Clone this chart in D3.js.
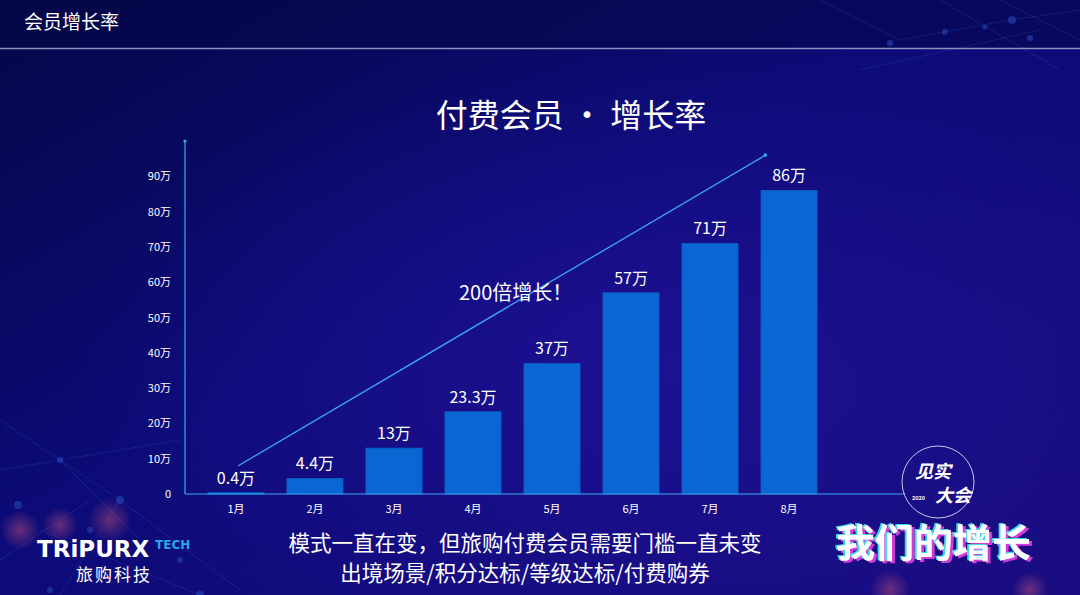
<!DOCTYPE html>
<html>
<head>
<meta charset="utf-8">
<script src="https://cdn.jsdelivr.net/npm/d3@7"></script>
<style>
  html, body { margin: 0; padding: 0; background: #0a0a60; }
  svg { display: block; font-family: "Noto Sans CJK SC", "Noto Sans", sans-serif; }
</style>
</head>
<body>
<svg id="chart" width="1080" height="595"></svg>
<script>
// chart data
var months = ["1月", "2月", "3月", "4月", "5月", "6月", "7月", "8月"];
var members = [0.4, 4.4, 13, 23.3, 37, 57, 71, 86];          // 万
var valueLabels = ["0.4万", "4.4万", "13万", "23.3万", "37万", "57万", "71万", "86万"];
var yTicks = [0, 10, 20, 30, 40, 50, 60, 70, 80, 90];
// trend arrow, in (month index, 万) units
var trendIdx = [0.03, 6.7];
var trendVal = [8, 96];

var svg = d3.select("#chart");
var W = 1080, H = 595;

// background
var defs = svg.append("defs");
var bg = defs.append("linearGradient").attr("id", "bg")
    .attr("x1", "0").attr("y1", "0").attr("x2", "1").attr("y2", "1");
bg.append("stop").attr("offset", "0%").attr("stop-color", "#040748");
bg.append("stop").attr("offset", "45%").attr("stop-color", "#0c0b78");
bg.append("stop").attr("offset", "100%").attr("stop-color", "#1a0c80");
var glow = defs.append("radialGradient").attr("id", "glow")
    .attr("cx", "0.62").attr("cy", "0.62").attr("r", "0.55");
glow.append("stop").attr("offset", "0%").attr("stop-color", "#22129a").attr("stop-opacity", 0.75);
glow.append("stop").attr("offset", "100%").attr("stop-color", "#22129a").attr("stop-opacity", 0);
var bokeh = defs.append("radialGradient").attr("id", "bokeh");
bokeh.append("stop").attr("offset", "0%").attr("stop-color", "#c0507a").attr("stop-opacity", 0.5);
bokeh.append("stop").attr("offset", "100%").attr("stop-color", "#c0507a").attr("stop-opacity", 0);

// glitch look for the slogan, done with a filter so it stays one text
var glitch = defs.append("filter").attr("id", "glitch")
    .attr("x", "-10%").attr("y", "-20%").attr("width", "120%").attr("height", "140%");
glitch.append("feFlood").attr("flood-color", "#d23ad8").attr("result", "mag");
glitch.append("feComposite").attr("in", "mag").attr("in2", "SourceAlpha").attr("operator", "in").attr("result", "magA");
glitch.append("feOffset").attr("in", "magA").attr("dx", 2.5).attr("dy", 2).attr("result", "magO");
glitch.append("feFlood").attr("flood-color", "#3ad8e8").attr("result", "cy");
glitch.append("feComposite").attr("in", "cy").attr("in2", "SourceAlpha").attr("operator", "in").attr("result", "cyA");
glitch.append("feOffset").attr("in", "cyA").attr("dx", -2.5).attr("dy", -1.5).attr("result", "cyO");
var merge = glitch.append("feMerge");
merge.append("feMergeNode").attr("in", "magO");
merge.append("feMergeNode").attr("in", "cyO");
merge.append("feMergeNode").attr("in", "SourceGraphic");

svg.append("rect").attr("width", W).attr("height", H).attr("fill", "url(#bg)");
svg.append("rect").attr("width", W).attr("height", H).attr("fill", "url(#glow)");
svg.append("rect").attr("width", W).attr("height", 48).attr("fill", "#060848").attr("opacity", 0.55);

// faint network decoration
var net = svg.append("g").attr("stroke", "#3a5cc0").attr("stroke-opacity", 0.3).attr("stroke-width", 0.8);
[[0, 420, 120, 500], [120, 500, 60, 595], [0, 470, 180, 440], [40, 530, 200, 595], [120, 500, 240, 590],
 [60, 460, 140, 540], [0, 560, 90, 500], [820, 0, 900, 40], [900, 40, 1010, 20], [940, 0, 1060, 70],
 [1010, 20, 1080, 10], [1000, 0, 1080, 40], [860, 70, 1040, 30]].forEach(function(l) {
    net.append("line").attr("x1", l[0]).attr("y1", l[1]).attr("x2", l[2]).attr("y2", l[3]);
});
var dots = svg.append("g").attr("fill", "#2a4cc0").attr("fill-opacity", 0.55);
[[120, 500, 4], [60, 460, 3], [18, 505, 4], [90, 530, 3], [200, 595, 4], [180, 560, 3], [50, 590, 3],
 [1012, 20, 4], [945, 32, 3], [890, 43, 3], [1030, 38, 3], [985, 27, 2.5]].forEach(function(d) {
    dots.append("circle").attr("cx", d[0]).attr("cy", d[1]).attr("r", d[2]);
});
[[110, 520, 22], [60, 525, 18], [20, 530, 20], [890, 590, 20], [1030, 590, 18]].forEach(function(b) {
    svg.append("circle").attr("cx", b[0]).attr("cy", b[1]).attr("r", b[2]).attr("fill", "url(#bokeh)");
});

// header
svg.append("text").attr("x", 24).attr("y", 29).attr("fill", "#ffffff")
    .attr("font-size", 19).text("会员增长率");
svg.append("line").attr("x1", 0).attr("x2", W).attr("y1", 48.5).attr("y2", 48.5)
    .attr("stroke", "#8c8fc0").attr("stroke-width", 1.5);

// title
svg.append("text").attr("x", 571).attr("y", 127).attr("text-anchor", "middle")
    .attr("fill", "#ffffff").attr("font-size", 32).text("付费会员 · 增长率");

// scales
var x = d3.scaleBand().domain(months).range([185, 840]).padding(0.29);
var y = d3.scaleLinear().domain([0, 100]).range([494, 141]);
var xi = d3.scaleLinear().domain([0, months.length - 1])
    .range([x(months[0]) + x.bandwidth() / 2, x(months[months.length - 1]) + x.bandwidth() / 2]);

// bars
svg.append("g").selectAll("rect").data(members).join("rect")
    .attr("x", function(d, i) { return x(months[i]); })
    .attr("y", function(d) { return y(d); })
    .attr("width", x.bandwidth())
    .attr("height", function(d) { return Math.max(1.5, y(0) - y(d)); })
    .attr("fill", "#0a66d2")
    .attr("stroke", "#0d5cc4").attr("stroke-width", 0.8);

// value labels
svg.append("g").selectAll("text").data(members).join("text")
    .attr("x", function(d, i) { return x(months[i]) + x.bandwidth() / 2; })
    .attr("y", function(d) { return y(d) - 9; })
    .attr("text-anchor", "middle").attr("fill", "#ffffff").attr("font-size", 16)
    .text(function(d, i) { return valueLabels[i]; });

// y axis
var yAxis = svg.append("g").attr("transform", "translate(185,0)")
    .call(d3.axisLeft(y).tickValues(yTicks).tickSize(0).tickPadding(14)
        .tickFormat(function(d) { return d === 0 ? "0" : d + "万"; }));
yAxis.select(".domain").attr("stroke", "#3aa8f0").attr("stroke-width", 1.2)
    .attr("d", "M0," + y(0) + "V" + y(100));
yAxis.selectAll("text").attr("fill", "#ffffff").attr("font-size", 11)
    .attr("font-family", "\"Noto Sans CJK SC\", sans-serif");
svg.append("circle").attr("cx", 185).attr("cy", y(100)).attr("r", 1.6).attr("fill", "#3aa8f0");

// x axis
var xAxis = svg.append("g").attr("transform", "translate(0," + y(0) + ")")
    .call(d3.axisBottom(x).tickSize(0).tickPadding(11));
xAxis.select(".domain").attr("stroke", "#3aa8f0").attr("stroke-width", 1.2)
    .attr("d", "M185,0H905");
xAxis.selectAll("text").attr("fill", "#ffffff").attr("font-size", 11)
    .attr("font-family", "\"Noto Sans CJK SC\", sans-serif");

// trend line
svg.append("line")
    .attr("x1", xi(trendIdx[0])).attr("y1", y(trendVal[0]))
    .attr("x2", xi(trendIdx[1])).attr("y2", y(trendVal[1]))
    .attr("stroke", "#3aa8f0").attr("stroke-width", 1.3);
svg.append("circle").attr("cx", xi(trendIdx[1])).attr("cy", y(trendVal[1])).attr("r", 1.8).attr("fill", "#3aa8f0");
svg.append("text").attr("x", 459).attr("y", 300).attr("fill", "#ffffff").attr("font-size", 20)
    .text("200倍增长！");

// bottom caption
svg.append("text").attr("x", 525).attr("y", 551).attr("text-anchor", "middle")
    .attr("fill", "#ffffff").attr("font-size", 21.5).text("模式一直在变，但旅购付费会员需要门槛一直未变");
svg.append("text").attr("x", 525).attr("y", 581).attr("text-anchor", "middle")
    .attr("fill", "#ffffff").attr("font-size", 21.5).text("出境场景/积分达标/等级达标/付费购券");

// left logo
svg.append("text").attr("x", 37).attr("y", 557).attr("fill", "#ffffff")
    .attr("font-size", 23).attr("font-weight", "bold")
    .attr("font-family", "\"DejaVu Sans\", sans-serif").text("TRiPURX");
svg.append("text").attr("x", 155).attr("y", 549).attr("fill", "#2aa6ea")
    .attr("font-size", 12).attr("font-weight", "bold")
    .attr("font-family", "\"DejaVu Sans\", sans-serif").text("TECH");
svg.append("text").attr("x", 76).attr("y", 581).attr("fill", "#ffffff")
    .attr("font-size", 17).attr("letter-spacing", 2).text("旅购科技");

// right logo
svg.append("circle").attr("cx", 938).attr("cy", 482).attr("r", 36)
    .attr("fill", "none").attr("stroke", "#c8c8e8").attr("stroke-width", 1);
svg.append("text").attr("x", 915).attr("y", 478).attr("fill", "#ffffff")
    .attr("font-size", 18).attr("font-weight", "bold").attr("font-style", "italic").text("见实");
svg.append("text").attr("x", 935).attr("y", 502).attr("fill", "#ffffff")
    .attr("font-size", 18).attr("font-weight", "bold").attr("font-style", "italic").text("大会");
svg.append("text").attr("x", 912).attr("y", 500).attr("fill", "#ffffff")
    .attr("font-size", 5.5).attr("font-weight", "bold").text("2020");
svg.append("text").attr("x", 836).attr("y", 557).attr("fill", "#ffffff")
    .attr("font-size", 39).attr("font-weight", "bold").attr("filter", "url(#glitch)")
    .text("我们的增长");
</script>
</body>
</html>
